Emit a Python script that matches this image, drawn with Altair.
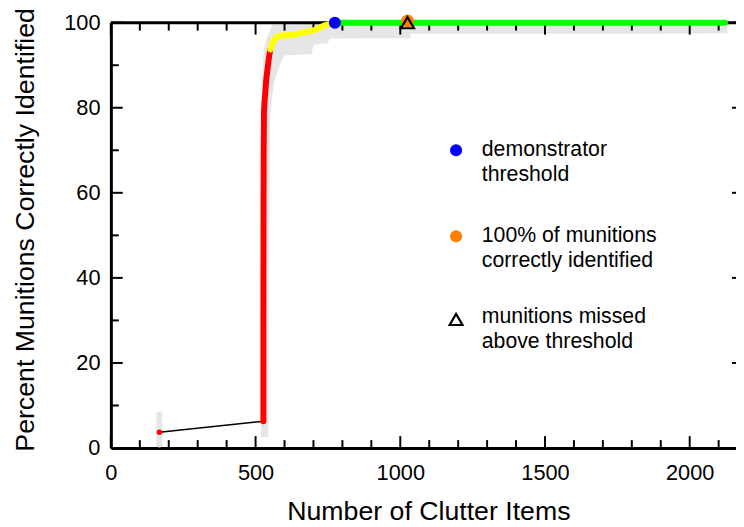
import altair as alt
import pandas as pd

# ---------------- data ----------------
start_x = [167.5]
start_y = [3.7]
start_ci_lo = [0.8]
start_ci_hi = [7.9]

connector_x = [167.5, 527]
connector_y = [3.7, 6.3]

red_x = [527, 527, 527.5, 528, 529, 531, 534, 537, 542, 547, 551]
red_y = [6.3, 30, 55, 70, 79, 81.5, 84, 86.8, 89.5, 92.2, 93.7]

yellow_x = [551, 560, 572, 588, 640, 660, 690, 712, 735, 774]
yellow_y = [93.7, 95.5, 96.6, 97.0, 97.2, 97.7, 98.0, 98.5, 99.3, 100]

green_x = [774, 2122]
green_y = [100, 100]

ci_y = [2.6, 40, 76.7, 81.4, 86.7, 90.2, 92.3, 92.6, 94.2, 94.9, 95.1, 96.3,
        96.35, 97.4, 97.45, 98.1, 99.0, 99.6, 99.7, 100.4]
ci_lo = [519, 519, 520, 521, 523, 525, 527, 527, 530, 533, 534, 538,
         538, 545, 545, 550, 553, 557, 686, 686]
ci_hi = [544, 545, 550, 555, 566, 585, 598, 694, 698, 701, 749, 756,
         1036, 1036, 2130, 2130, 2130, 2130, 2130, 2130]

threshold_x = [774]
threshold_y = [100]
all_found_x = [1025]
all_found_y = [100.4]
missed_x = [1025]
missed_y = [100]

x_tick_labels = [0, 500, 1000, 1500, 2000]
x_minor_ticks = list(range(0, 2200, 100))
y_tick_labels = [0, 20, 40, 60, 80, 100]
y_minor_ticks = list(range(0, 101, 10))

legend_labels = [
    ["demonstrator", "threshold"],
    ["100% of munitions", "correctly identified"],
    ["munitions missed", "above threshold"],
]

# ---------------- layout ----------------
W, H = 632, 430
FONT = "Liberation Sans"

xs = alt.Scale(domain=[0, 2160], nice=False, zero=False)
ys = alt.Scale(domain=[0, 100], nice=False, zero=False)

xaxis = alt.Axis(values=x_tick_labels, format="d", ticks=False, tickSize=0, grid=False,
                 domainColor="black", domainWidth=3, labelFont=FONT,
                 labelFontSize=22, labelColor="black", labelPadding=15,
                 title="Number of Clutter Items", titleFont=FONT,
                 titleFontSize=27, titleFontWeight="normal", titleColor="black",
                 titleX=321, titleY=72, titleBaseline="alphabetic",
                 titleAlign="center", labelFlush=False)
yaxis = alt.Axis(values=y_tick_labels, format="d", ticks=False, tickSize=0, grid=False,
                 domainColor="black", domainWidth=3, labelFont=FONT,
                 labelFontSize=22, labelColor="black", labelPadding=11,
                 title="Percent Munitions Correctly Identified", titleFont=FONT,
                 titleFontSize=27, titleFontWeight="normal", titleColor="black",
                 titleX=-78, titleY=209, titleBaseline="alphabetic",
                 titleAlign="center", labelFlush=False)


def X(f):
    return alt.X(f, type="quantitative", scale=xs, axis=xaxis)


def Y(f):
    return alt.Y(f, type="quantitative", scale=ys, axis=yaxis)


def line_df(xv, yv):
    return pd.DataFrame({"x": xv, "y": yv, "i": list(range(len(xv)))})


ci_df = pd.DataFrame({"y": ci_y, "lo": ci_lo, "hi": ci_hi})
band = alt.Chart(ci_df).mark_area(orient="horizontal", color="#e6e6e6",
                                  opacity=1, clip=False).encode(
    y=Y("y"), x=X("lo"), x2="hi")

start_ci = alt.Chart(pd.DataFrame({"x": start_x, "lo": start_ci_lo, "hi": start_ci_hi})).mark_rule(
    color="#e6e6e6", strokeWidth=6, strokeCap="round").encode(x=X("x"), y=Y("lo"), y2="hi")

top_border = alt.Chart(pd.DataFrame({"a": [0]})).mark_rule(
    color="black", strokeWidth=3).encode(
    x=alt.value(0), x2=alt.value(W), y=alt.value(0))

tick_layers = []
xmaj = pd.DataFrame({"v": x_tick_labels})
xmin = pd.DataFrame({"v": [v for v in x_minor_ticks if v not in x_tick_labels]})
ymaj = pd.DataFrame({"v": y_tick_labels})
ymin = pd.DataFrame({"v": [v for v in y_minor_ticks if v not in y_tick_labels]})
for df, L in [(xmaj, 12), (xmin, 8)]:
    tick_layers.append(alt.Chart(df).mark_rule(color="black", strokeWidth=2).encode(
        x=X("v"), y=alt.value(H), y2=alt.value(H - L)))
    tick_layers.append(alt.Chart(df).mark_rule(color="black", strokeWidth=2).encode(
        x=X("v"), y=alt.value(0), y2=alt.value(L)))
for df, L in [(ymaj, 12), (ymin, 8)]:
    tick_layers.append(alt.Chart(df).mark_rule(color="black", strokeWidth=2).encode(
        y=Y("v"), x=alt.value(0), x2=alt.value(L)))
tick_layers.append(alt.Chart(ymaj[ymaj.v > 0]).mark_rule(color="black", strokeWidth=2).encode(
    y=Y("v"), x=alt.value(W - 4), x2=alt.value(W)))

connector = alt.Chart(line_df(connector_x, connector_y)).mark_line(
    color="black", strokeWidth=1.5).encode(x=X("x"), y=Y("y"), order="i:Q")


def thick(xv, yv, col):
    return alt.Chart(line_df(xv, yv)).mark_line(
        color=col, strokeWidth=6, strokeCap="round", strokeJoin="round",
        clip=False).encode(x=X("x"), y=Y("y"), order="i:Q")


red = thick(red_x, red_y, "#ff0000")
yellow = thick(yellow_x, yellow_y, "#ffff00")
green = thick(green_x, green_y, "#00ff00")

start_pt = alt.Chart(line_df(start_x, start_y)).mark_point(
    shape="circle", filled=True, color="#ff0000", size=30, opacity=1).encode(x=X("x"), y=Y("y"))
thr_pt = alt.Chart(line_df(threshold_x, threshold_y)).mark_point(
    shape="circle", filled=True, color="#0000ff", size=150, opacity=1, clip=False).encode(x=X("x"), y=Y("y"))
all_pt = alt.Chart(line_df(all_found_x, all_found_y)).mark_point(
    shape="circle", filled=True, color="#ff8000", size=170, opacity=1, clip=False).encode(x=X("x"), y=Y("y"))
miss_pt = alt.Chart(line_df(missed_x, missed_y)).mark_point(
    shape="triangle-up", filled=False, color="black", strokeWidth=2.2, size=170,
    opacity=1, clip=False).encode(x=X("x"), y=Y("y"))

# ---------------- legend ----------------
leg_layers = []
sym_x, txt_x = 349, 375
group_y = [129, 216, 298]
line_gap = 25
sym_styles = [
    dict(shape="circle", filled=True, color="#0000ff", size=150),
    dict(shape="circle", filled=True, color="#ff8000", size=150),
    dict(shape="triangle-up", filled=False, color="black", strokeWidth=2.2, size=170),
]
one = pd.DataFrame({"a": [0]})
for gy, lab, st in zip(group_y, legend_labels, sym_styles):
    leg_layers.append(alt.Chart(one).mark_point(opacity=1, **st).encode(
        x=alt.value(sym_x), y=alt.value(gy + (2 if st["shape"] != "circle" else 0))))
    for k, line in enumerate(lab):
        leg_layers.append(alt.Chart(one).mark_text(
            text=line, font=FONT, fontSize=21.5, align="left", baseline="middle",
            color="black").encode(x=alt.value(txt_x), y=alt.value(gy + k * line_gap)))

chart = alt.layer(
    band, start_ci, top_border, *tick_layers, connector, red, yellow, green,
    start_pt, thr_pt, all_pt, miss_pt, *leg_layers
).properties(
    width=W, height=H,
    autosize=alt.AutoSizeParams(type="none"),
    padding={"left": 104, "top": 12, "right": 0, "bottom": 76},
).configure_view(stroke=None).configure(background="white")

chart.save("out.html", embed_options={"renderer": "svg", "actions": False})
